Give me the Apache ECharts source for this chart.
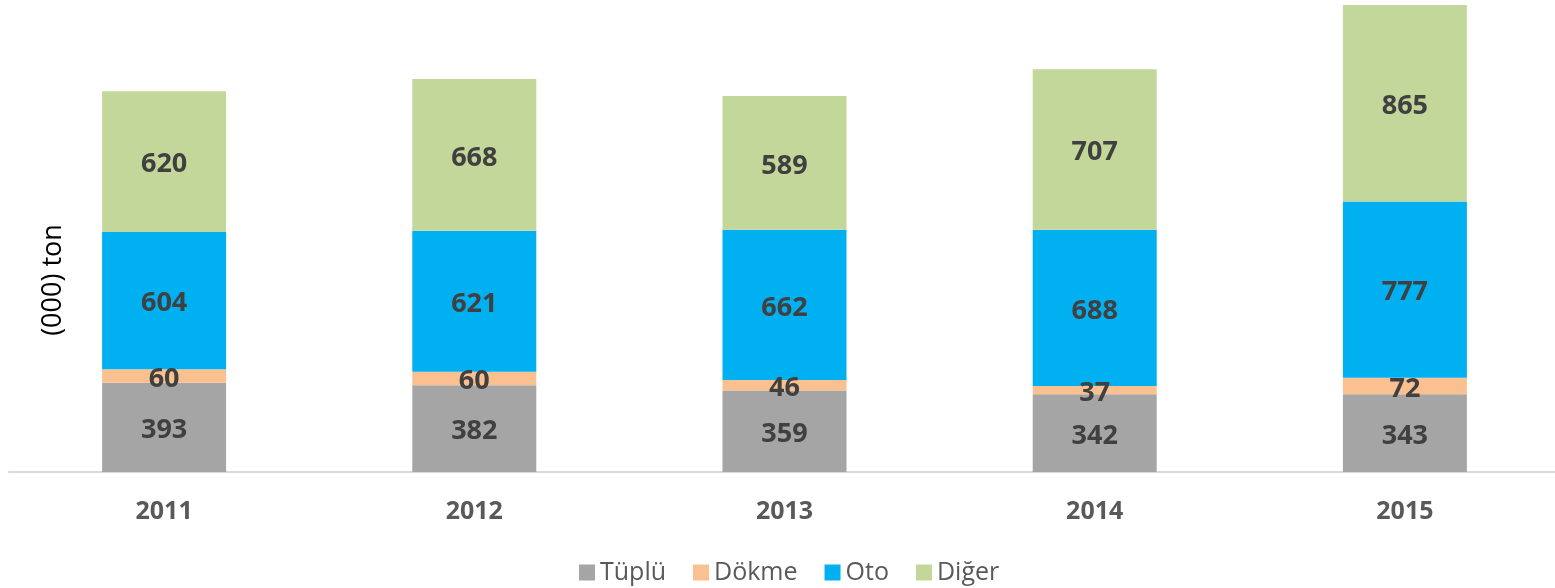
<!DOCTYPE html>
<html>
<head>
<meta charset="utf-8">
<script src="https://cdn.jsdelivr.net/npm/echarts@6/dist/echarts.min.js"></script>
<style>
    html, body { margin: 0; padding: 0; background: #fff; }
    #chart { width: 1555px; height: 588px; }
</style>
</head>
<body>
<div id="chart"></div>
<script>
    // values in thousand tons
    const years = ['2011', '2012', '2013', '2014', '2015']
    const tuplu = [393, 382, 359, 342, 343]
    const dokme = [60, 60, 46, 37, 72]
    const oto = [604, 621, 662, 688, 777]
    const diger = [620, 668, 589, 707, 865]

    let myChart = echarts.init(document.getElementById('chart'))

    const labelStyle = {
        show: true,
        position: 'inside',
        offset: [0, 3],
        fontFamily: 'Open Sans',
        fontWeight: 'bold',
        fontSize: 27,
        color: '#404040'
    }

    function makeSeries(name, data, color) {
        return {
            name: name,
            type: 'bar',
            stack: 'total',
            barWidth: 124,
            data: data,
            itemStyle: { color: color },
            label: labelStyle
        }
    }

    let option = {
        animation: false,
        textStyle: { fontFamily: 'Open Sans' },
        grid: {
            left: 9,
            right: -5,
            top: 5,
            bottom: 116,
            outerBoundsMode: 'none'
        },
        legend: {
            left: 574,
            top: 555,
            itemWidth: 16,
            itemHeight: 16,
            itemGap: 27,
            icon: 'rect',
            textStyle: {
                fontFamily: 'Open Sans',
                fontSize: 25,
                color: '#595959'
            },
            data: ['Tüplü', 'Dökme', 'Oto', 'Diğer']
        },
        xAxis: {
            type: 'category',
            data: years,
            axisLine: { lineStyle: { color: '#D9D9D9', width: 2 } },
            axisTick: { show: false },
            axisLabel: {
                margin: 27,
                fontFamily: 'Open Sans',
                fontWeight: 'bold',
                fontSize: 25,
                color: '#595959'
            }
        },
        yAxis: {
            type: 'value',
            min: 0,
            max: 2057,
            show: false
        },
        graphic: [
            {
                type: 'text',
                x: 53,
                y: 280,
                rotation: Math.PI / 2,
                style: {
                    text: '(000) ton',
                    fontFamily: 'Open Sans',
                    fontSize: 27,
                    fill: '#000',
                    align: 'center',
                    verticalAlign: 'middle'
                }
            }
        ],
        series: [
            makeSeries('Tüplü', tuplu, '#A5A5A5'),
            makeSeries('Dökme', dokme, '#FAC090'),
            makeSeries('Oto', oto, '#00B0F0'),
            makeSeries('Diğer', diger, '#C4D79B')
        ]
    }

    myChart.setOption(option)
</script>
</body>
</html>
